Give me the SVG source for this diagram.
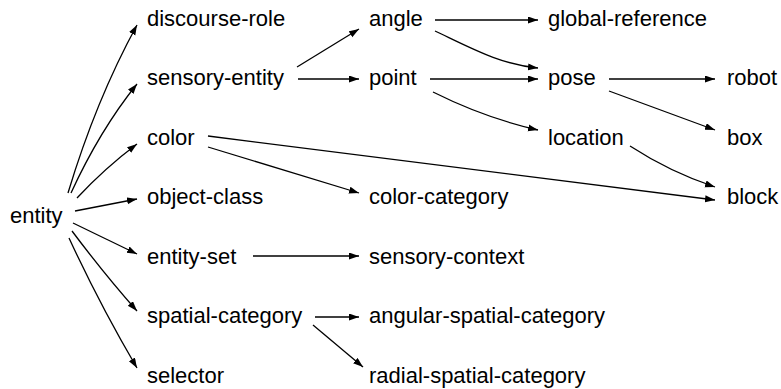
<svg xmlns="http://www.w3.org/2000/svg" width="781" height="389" viewBox="0 0 781 389">
  <style>
    .lbl { font-family: "Liberation Sans", Arial, sans-serif; font-size: 22px; fill: #000; }
    .edge { fill: none; stroke: #000; stroke-width: 1.3; marker-end: url(#arrow); }
  </style>
  <defs>
    <marker id="arrow" markerUnits="userSpaceOnUse" markerWidth="11" markerHeight="8" refX="10" refY="3.5" orient="auto">
      <path d="M0,0 L10,3.5 L0,7 z" fill="#000"/>
    </marker>
  </defs>
  <rect width="781" height="389" fill="#fff"/>

  <g id="connectors">
    <!-- entity fan-out -->
    <path class="edge" d="M68,193 Q96,100 137,25"/>
    <path class="edge" d="M71,193 Q100,130 137,84"/>
    <path class="edge" d="M77,198 Q105,168 137,144"/>
    <path class="edge" d="M75,211 L137,199"/>
    <path class="edge" d="M73,223 L137,254"/>
    <path class="edge" d="M72,231 Q105,275 137,311"/>
    <path class="edge" d="M69,238 Q100,305 137,368"/>
    <!-- sensory-entity -->
    <path class="edge" d="M297,67 L359,29"/>
    <path class="edge" d="M298,79 L359,79"/>
    <!-- angle -->
    <path class="edge" d="M435,20 L538,20"/>
    <path class="edge" d="M435,31 C475,50 500,64 538,68"/>
    <!-- point -->
    <path class="edge" d="M430,79 L538,79"/>
    <path class="edge" d="M433,92 Q485,118 538,130"/>
    <!-- pose -->
    <path class="edge" d="M609,79 L715,79"/>
    <path class="edge" d="M609,91 L715,130"/>
    <!-- location -->
    <path class="edge" d="M630,146 Q670,172 715,187"/>
    <!-- color -->
    <path class="edge" d="M208,136 L715,200"/>
    <path class="edge" d="M208,147 L359,193"/>
    <!-- entity-set -->
    <path class="edge" d="M253,256 L359,256"/>
    <!-- spatial-category -->
    <path class="edge" d="M315,317 L359,317"/>
    <path class="edge" d="M313,325 L363,367"/>
  </g>

  <g id="entity"><text class="lbl" x="10" y="223">entity</text></g>
  <g id="discourse-role"><text class="lbl" x="147" y="26">discourse-role</text></g>
  <g id="sensory-entity"><text class="lbl" x="147" y="85">sensory-entity</text></g>
  <g id="color"><text class="lbl" x="147" y="145">color</text></g>
  <g id="object-class"><text class="lbl" x="147" y="204">object-class</text></g>
  <g id="entity-set"><text class="lbl" x="147" y="264">entity-set</text></g>
  <g id="spatial-category"><text class="lbl" x="147" y="323">spatial-category</text></g>
  <g id="selector"><text class="lbl" x="147" y="383">selector</text></g>

  <g id="angle"><text class="lbl" x="369" y="26">angle</text></g>
  <g id="point"><text class="lbl" x="369" y="85">point</text></g>
  <g id="color-category"><text class="lbl" x="369" y="204">color-category</text></g>
  <g id="sensory-context"><text class="lbl" x="369" y="264">sensory-context</text></g>
  <g id="angular-spatial-category"><text class="lbl" x="369" y="323">angular-spatial-category</text></g>
  <g id="radial-spatial-category"><text class="lbl" x="369" y="383">radial-spatial-category</text></g>

  <g id="global-reference"><text class="lbl" x="548" y="26">global-reference</text></g>
  <g id="pose"><text class="lbl" x="548" y="85">pose</text></g>
  <g id="location"><text class="lbl" x="548" y="145">location</text></g>

  <g id="robot"><text class="lbl" x="727" y="85">robot</text></g>
  <g id="box"><text class="lbl" x="727" y="145">box</text></g>
  <g id="block"><text class="lbl" x="727" y="204">block</text></g>
</svg>
